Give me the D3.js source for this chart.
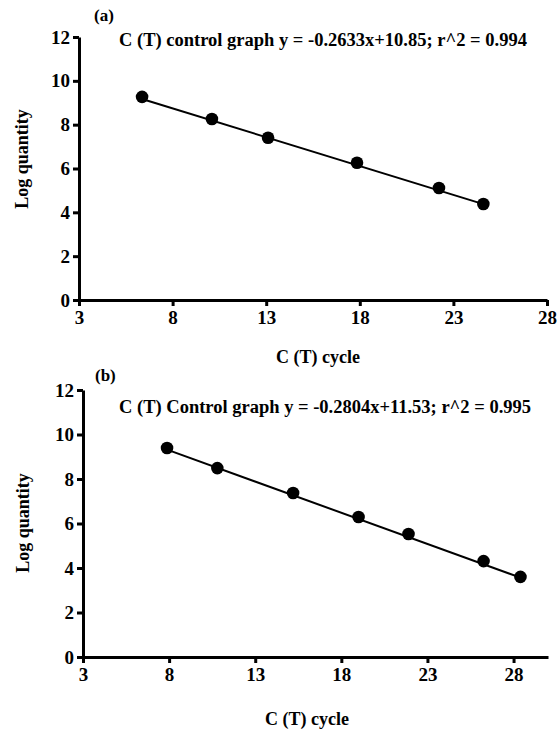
<!DOCTYPE html>
<html>
<head>
<meta charset="utf-8">
<script src="https://cdn.jsdelivr.net/npm/d3@7"></script>
<style>
  body { margin: 0; background: #fff; }
  svg text { font-family: "Liberation Serif", "DejaVu Serif", "Times New Roman", Times, serif; font-weight: bold; fill: #000; }
  .axis path, .axis line { stroke: #000; stroke-width: 3; }
</style>
</head>
<body>
<svg id="myGraph" width="559" height="731"></svg>
<script>
var svgWidth = 559;
var svgHeight = 731;
var fontFamily = '"Liberation Serif", "DejaVu Serif", serif';

// panel (a)
var ctA = [6.37, 10.1, 13.1, 17.85, 22.23, 24.6];
var logA = [9.27, 8.26, 7.40, 6.26, 5.11, 4.38];
var fitA = { slope: -0.2633, intercept: 10.85 };
var titleA = 'C (T) control graph y = -0.2633x+10.85; r^2 = 0.994';

// panel (b)
var ctB = [7.88, 10.8, 15.2, 19.0, 21.9, 26.26, 28.4];
var logB = [9.39, 8.49, 7.37, 6.29, 5.53, 4.31, 3.6];
var fitB = { slope: -0.2804, intercept: 11.53 };
var titleB = 'C (T) Control graph y = -0.2804x+11.53; r^2 = 0.995';

var xTicks = [3, 8, 13, 18, 23, 28];
var yTicks = [0, 2, 4, 6, 8, 10, 12];

var svg = d3.select('#myGraph');

function drawPanel(opt) {
  var g = svg.append('g');

  var x = d3.scaleLinear().domain(opt.xDomain).range(opt.xRange);
  var y = d3.scaleLinear().domain([0, 12]).range(opt.yRange);

  var xAxis = g.append('g')
    .attr('class', 'axis')
    .attr('transform', 'translate(0,' + opt.yRange[0] + ')')
    .call(d3.axisBottom(x).tickValues(xTicks).tickSize(6).tickSizeOuter(0).tickPadding(5));
  xAxis.attr('font-family', fontFamily);
  xAxis.selectAll('text').style('font-size', '19px');

  var yAxis = g.append('g')
    .attr('class', 'axis')
    .attr('transform', 'translate(' + opt.xRange[0] + ',0)')
    .call(d3.axisLeft(y).tickValues(yTicks).tickSize(6).tickSizeOuter(0).tickPadding(3));
  yAxis.attr('font-family', fontFamily);
  yAxis.selectAll('text').style('font-size', '19px');

  // regression line over the data range
  var xs = d3.extent(opt.ct);
  g.append('line')
    .attr('x1', x(xs[0]))
    .attr('y1', y(opt.fit.slope * xs[0] + opt.fit.intercept))
    .attr('x2', x(xs[1]))
    .attr('y2', y(opt.fit.slope * xs[1] + opt.fit.intercept))
    .attr('stroke', '#000')
    .attr('stroke-width', 2);

  g.selectAll('circle')
    .data(opt.ct)
    .enter()
    .append('circle')
    .attr('cx', function(d) { return x(d); })
    .attr('cy', function(d, i) { return y(opt.log[i]); })
    .attr('r', 6.3)
    .attr('fill', '#000');

  g.append('text')
    .attr('x', opt.titlePos[0])
    .attr('y', opt.titlePos[1])
    .style('font-size', '18.5px')
    .text(opt.title);

  g.append('text')
    .attr('x', opt.tagPos[0])
    .attr('y', opt.tagPos[1])
    .style('font-size', '17px')
    .text(opt.tag);

  g.append('text')
    .attr('transform', 'translate(' + opt.yLabelPos[0] + ',' + opt.yLabelPos[1] + ') rotate(-90)')
    .attr('text-anchor', 'middle')
    .style('font-size', '18px')
    .text('Log quantity');

  g.append('text')
    .attr('x', opt.xLabelPos[0])
    .attr('y', opt.xLabelPos[1])
    .attr('text-anchor', 'middle')
    .style('font-size', '18px')
    .text('C (T) cycle');
}

drawPanel({
  ct: ctA, log: logA, fit: fitA, title: titleA, tag: '(a)',
  xDomain: [3, 28], xRange: [79, 547], yRange: [300, 37],
  titlePos: [119, 46], tagPos: [94, 21], yLabelPos: [28, 159], xLabelPos: [318, 363]
});

drawPanel({
  ct: ctB, log: logB, fit: fitB, title: titleB, tag: '(b)',
  xDomain: [3, 30], xRange: [83, 548], yRange: [657, 390],
  titlePos: [119, 413], tagPos: [95, 381], yLabelPos: [29, 523], xLabelPos: [307, 725]
});
</script>
</body>
</html>
